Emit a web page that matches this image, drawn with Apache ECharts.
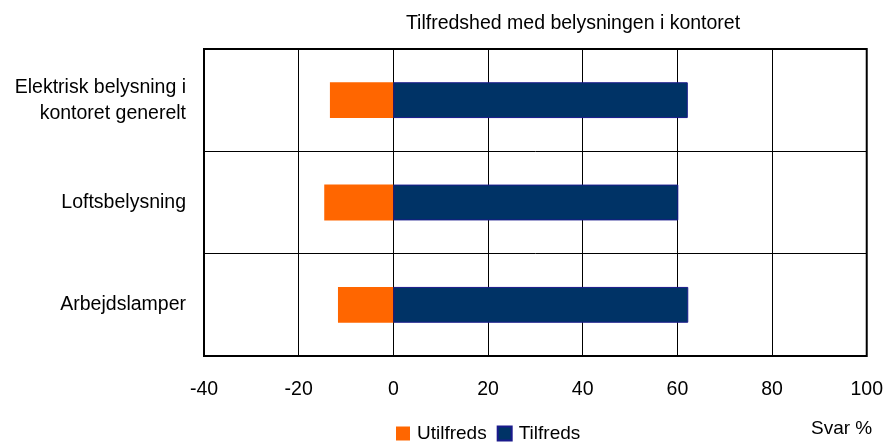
<!DOCTYPE html>
<html>
<head>
<meta charset="utf-8">
<script src="https://cdn.jsdelivr.net/npm/echarts@6/dist/echarts.min.js"></script>
<style>
  html, body {margin: 0; padding: 0; background: #fff;}
  #chart {width: 886px; height: 443px;}
</style>
</head>
<body>
<div id="chart"></div>
<script>
const categories = ['Elektrisk belysning i\nkontoret generelt', 'Loftsbelysning', 'Arbejdslamper'];
const utilfreds = [-13.4, -14.6, -11.7];
const tilfreds = [62.2, 60.2, 62.3];
const xTicks = {min: -40, max: 100, interval: 20};

const font = 'Liberation Sans, Arial, sans-serif';
const chart = echarts.init(document.getElementById('chart'));
chart.setOption({
  animation: false,
  title: {
    text: 'Tilfredshed med belysningen i kontoret',
    left: 568,
    textAlign: 'center',
    top: 9,
    textStyle: {fontFamily: font, fontSize: 19.5, fontWeight: 'normal', color: '#000'}
  },
  legend: {
    data: ['Utilfreds', 'Tilfreds'],
    left: 391,
    top: 419,
    icon: 'rect',
    itemWidth: 14,
    itemHeight: 14,
    itemGap: 10,
    textStyle: {fontFamily: font, fontSize: 19, color: '#000', padding: [0, 0, 0, 2]}
  },
  graphic: [{
    type: 'text',
    left: 811,
    top: 419,
    style: {text: 'Svar %', font: '19px ' + font, fill: '#000'}
  }],
  grid: {left: 204, right: 19, top: 49, bottom: 87, show: true, borderColor: '#000', borderWidth: 2},
  xAxis: {
    type: 'value',
    min: xTicks.min,
    max: xTicks.max,
    interval: xTicks.interval,
    axisLine: {show: false},
    axisTick: {show: false},
    axisLabel: {fontFamily: font, fontSize: 19.5, color: '#000', margin: 24},
    splitLine: {lineStyle: {color: '#000', width: 1}}
  },
  yAxis: {
    type: 'category',
    inverse: true,
    data: categories,
    axisLine: {show: false},
    axisTick: {show: false},
    axisLabel: {fontFamily: font, fontSize: 19.5, color: '#000', margin: 18, lineHeight: 26, align: 'right'},
    splitLine: {show: true, lineStyle: {color: '#000', width: 1}}
  },
  series: [
    {
      name: 'Utilfreds',
      type: 'bar',
      stack: 'svar',
      data: utilfreds,
      barWidth: '35%',
      itemStyle: {color: '#FF6600'}
    },
    {
      name: 'Tilfreds',
      type: 'bar',
      stack: 'svar',
      data: tilfreds,
      barWidth: '35%',
      itemStyle: {color: '#003366', borderColor: '#1a1a8c', borderWidth: 1}
    }
  ]
});
</script>
</body>
</html>
